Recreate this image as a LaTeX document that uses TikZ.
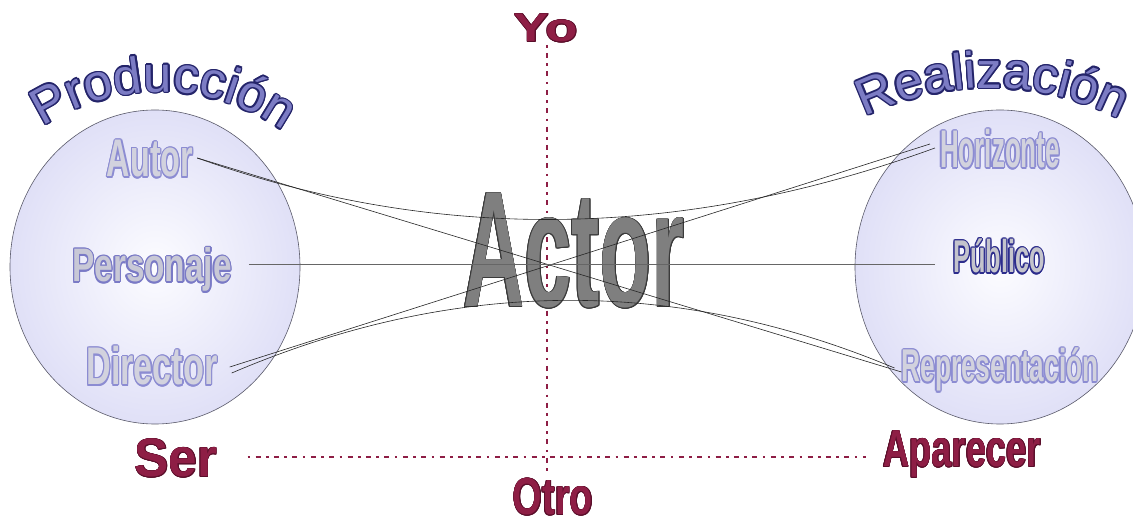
\documentclass[tikz,border=0pt]{standalone}
\usepackage{fontspec}
\usepackage{graphicx}
\usetikzlibrary{calc,decorations.text,shapes.geometric}
\newfontfamily\hv{Liberation Sans}
\definecolor{bubin}{HTML}{FCFCFF}
\definecolor{bubout}{HTML}{E0E0F7}
\definecolor{bubline}{HTML}{5A5A6A}
\definecolor{lfill}{HTML}{D2D2DE}
\definecolor{lout}{HTML}{8C8CD2}
\definecolor{pfill}{HTML}{C8C8D6}
\definecolor{pout}{HTML}{7A7AC6}
\definecolor{pubfill}{HTML}{C4C4CC}
\definecolor{pubout}{HTML}{2C2C8C}
\definecolor{actfill}{HTML}{7F7F7F}
\definecolor{actout}{HTML}{3A3A3A}
\definecolor{crim}{HTML}{8E1E45}
\definecolor{crimout}{HTML}{5A0E2A}
\definecolor{ttlin}{HTML}{7C7CC4}
\definecolor{ttlout}{HTML}{24246A}
% outlined text: #1 outline colour, #2 fill colour, #3 outline radius (pt), #4 text
\newcommand\olt[4]{%
  \setbox0=\hbox{#4}%
  \foreach \a in {0,30,...,330}{%
    \pgfmathsetmacro\dx{#3*cos(\a)}\pgfmathsetmacro\dy{#3*sin(\a)}%
    \rlap{\kern\dx pt\raisebox{\dy pt}{\textcolor{#1}{\copy0}}}}%
  \textcolor{#2}{\box0}}
% #1 size, #2 xscale, #3 outline, #4 fill, #5 radius, #6 text
\newcommand\wrd[6]{{\fontsize{#1}{#1}\selectfont\hv\bfseries\olt{#3}{#4}{#5}{\scalebox{#2}[1]{#6}}}}
\newcommand\ttlf{\hv\fontsize{51}{51}\selectfont}
\begin{document}
\begin{tikzpicture}[x=1pt,y=1pt,
  bub/.style={ellipse, minimum width=290pt, minimum height=314pt, inner color=bubin, outer color=bubout, draw=bubline, line width=0.6pt},
  conn/.style={draw=black!85, line width=0.6pt},
  dotl/.style={draw=crim, line width=2.6pt, dash pattern=on 2.6pt off 5.4pt on 5pt off 5.4pt},
  lbl/.style={anchor=base, inner sep=0pt}]
\useasboundingbox[fill=white] (0,0) rectangle (1133,517);
% bubbles
\node[bub] (lc) at (155,250) {};
\node[bub] (rc) at (1000,250) {};
% titles along arcs
\foreach \a in {0,30,...,330}{
  \path[decorate, decoration={text along path, text align=center, text color=ttlout, text={|\ttlf|Producción}}]
    ($(160,212)+(\a:1.5)$) ++(150:213pt) arc[start angle=150, end angle=28, radius=213pt];
  \path[decorate, decoration={text along path, text align=center, text color=ttlout, text={|\ttlf|Realización}}]
    ($(990,145)+(\a:1.5)$) ++(135:284pt) arc[start angle=135, end angle=44, radius=284pt];
}
\path[decorate, decoration={text along path, text align=center, text color=ttlin, text={|\ttlf|Producción}}]
  (160,212) ++(150:213pt) arc[start angle=150, end angle=28, radius=213pt];
\path[decorate, decoration={text along path, text align=center, text color=ttlin, text={|\ttlf|Realización}}]
  (990,145) ++(135:284pt) arc[start angle=135, end angle=44, radius=284pt];
% words in the bubbles
\node[lbl] (autor) at (150,340) {\wrd{53}{0.61}{lout}{lfill}{1.2}{Autor}};
\node[lbl] (personaje) at (152,235) {\wrd{47}{0.71}{pout}{pfill}{1.2}{Personaje}};
\node[lbl] (director) at (152,132) {\wrd{53}{0.645}{lout}{lfill}{1.2}{Director}};
\node[lbl] (horizonte) at (1000,349) {\wrd{53}{0.49}{lout}{lfill}{1.2}{Horizonte}};
\node[lbl] (publico) at (999,244) {\wrd{46}{0.55}{pubout}{pubfill}{1.2}{Público}};
\node[lbl] (repres) at (1000,135) {\wrd{46}{0.57}{lout}{lfill}{1.2}{Representación}};
% axes
\coordinate (vtop) at (547,472);
\coordinate (vbot) at (547,45);
\draw[dotl] (vtop) -- (vbot);
% Actor
\node[lbl] (actor) at (574,210) {\wrd{165}{0.515}{actout}{actfill}{0.8}{Actor}};
% connector end points
\coordinate (a1) at ($(autor.base east)+(4,19)$);
\coordinate (d1) at ($(director.base east)+(12,18)$);
\coordinate (d2) at ($(director.base east)+(14,12)$);
\coordinate (p1) at ($(personaje.base east)+(17,18)$);
\coordinate (pu1) at ($(publico.base west)+(-18,9)$);
\coordinate (h1) at ($(horizonte.base west)+(-10,24)$);
\coordinate (h2) at ($(horizonte.base west)+(-5,20)$);
\coordinate (r1) at ($(repres.base west)+(0,10)$);
\coordinate (r2) at ($(repres.base west)+(-7,14)$);
% connectors
\draw[conn] (a1) -- (r1);
\draw[conn] (d1) -- (h1);
\draw[conn, draw=black!60] (p1) -- (pu1);
\draw[conn] (a1) .. controls (439,273) and (685,278) .. (h2);
\draw[conn] (d2) .. controls (454,239) and (675,241) .. (r2);
% axis labels
\node[lbl] (yo) at (546,475) {\wrd{40}{1.33}{crimout}{crim}{0.6}{Yo}};
\node[lbl] (otro) at (553,2) {\wrd{52}{0.73}{crimout}{crim}{0.6}{Otro}};
\node[lbl] (ser) at (176,40) {\wrd{54}{0.95}{crimout}{crim}{0.6}{Ser}};
\node[lbl] (aparecer) at (962,50) {\wrd{52}{0.70}{crimout}{crim}{0.6}{Aparecer}};
\draw[dotl] ($(ser.base east)+(30,20)$) -- ($(aparecer.base west)+(-17,10)$);
\end{tikzpicture}
\end{document}
